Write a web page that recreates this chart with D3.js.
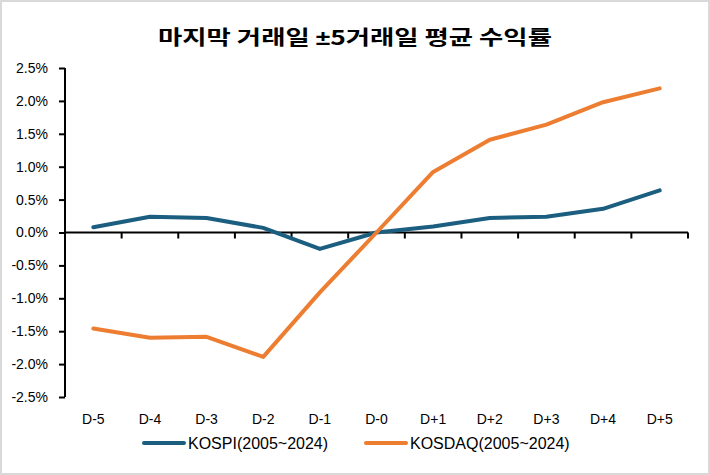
<!DOCTYPE html>
<html>
<head>
<meta charset="utf-8">
<script src="https://cdn.jsdelivr.net/npm/d3@7"></script>
<style>
  body { margin: 0; background: #fff; }
  svg { display: block; }
</style>
</head>
<body>
<div id="chart"></div>
<script>
// data
var days = ["D-5", "D-4", "D-3", "D-2", "D-1", "D-0", "D+1", "D+2", "D+3", "D+4", "D+5"];
var kospi = [0.08, 0.24, 0.22, 0.07, -0.25, 0.0, 0.09, 0.22, 0.24, 0.36, 0.64];
var kosdaq = [-1.46, -1.60, -1.585, -1.89, -0.91, 0.0, 0.92, 1.41, 1.64, 1.98, 2.19];
var yTicks = [2.5, 2.0, 1.5, 1.0, 0.5, 0.0, -0.5, -1.0, -1.5, -2.0, -2.5];
var seriesNames = ["KOSPI(2005~2024)", "KOSDAQ(2005~2024)"];
var colors = ["#1B5E80", "#ED7D31"];

var width = 710, height = 475;
var margin = { top: 68, right: 22, bottom: 78, left: 65 };

var svg = d3.select("#chart").append("svg")
  .attr("width", width)
  .attr("height", height);

// outer frame
svg.append("rect")
  .attr("x", 1).attr("y", 1)
  .attr("width", width - 2).attr("height", height - 2)
  .attr("fill", "#fff")
  .attr("stroke", "#d9d9d9")
  .attr("stroke-width", 2);

var font = "'Liberation Sans', Arial, sans-serif";

// title, drawn a bit wide like the original
var titleScale = 1.32;
var title = svg.append("g")
  .attr("transform", "scale(" + titleScale + ",1)")
  .append("text")
  .attr("x", 355 / titleScale)
  .attr("y", 45)
  .attr("text-anchor", "middle")
  .style("font-family", "'Noto Sans CJK KR', 'Noto Sans', sans-serif")
  .style("font-weight", "bold")
  .style("font-size", "20px")
  .attr("fill", "#000");
title.append("tspan").text("마지막 거래일 ");
title.append("tspan").style("font-family", font).text("±");
title.append("tspan").text("5거래일 평균 수익률");

var x = d3.scaleBand()
  .domain(days)
  .range([margin.left, 688]);

var y = d3.scaleLinear()
  .domain([-2.5, 2.5])
  .range([397, 68]);

// y axis
var yAxis = svg.append("g")
  .attr("transform", "translate(" + margin.left + ",0)")
  .call(d3.axisLeft(y).tickValues(yTicks).tickSize(6).tickPadding(11)
    .tickFormat(function (d) { return d.toFixed(1) + "%"; }));
yAxis.selectAll("path, line").attr("stroke", "#000").attr("stroke-width", 2);
yAxis.select(".domain").attr("d", "M0," + y(2.5) + "V" + y(-2.5));
yAxis.selectAll("text")
  .style("font-family", font).style("font-size", "14px").attr("fill", "#000");

// x axis on the zero line
var xAxis = svg.append("g")
  .attr("transform", "translate(0," + y(0) + ")")
  .call(d3.axisBottom(x).tickSizeOuter(0).tickSize(0).tickFormat(""));
xAxis.selectAll("path").attr("stroke", "#000").attr("stroke-width", 2);
xAxis.select(".domain").attr("d", "M" + margin.left + ",0H688");

// tick marks at band boundaries
var bounds = days.map(function (d) { return x(d) + x.bandwidth(); });
xAxis.selectAll("line.bound")
  .data(bounds)
  .enter().append("line")
  .attr("class", "bound")
  .attr("x1", function (d) { return d; })
  .attr("x2", function (d) { return d; })
  .attr("y1", 0).attr("y2", 6)
  .attr("stroke", "#000").attr("stroke-width", 2);

// category labels at the bottom
svg.selectAll("text.day")
  .data(days)
  .enter().append("text")
  .attr("class", "day")
  .attr("x", function (d) { return x(d) + x.bandwidth() / 2; })
  .attr("y", 424)
  .attr("text-anchor", "middle")
  .style("font-family", font).style("font-size", "14px")
  .attr("fill", "#000")
  .text(function (d) { return d; });

var line = d3.line()
  .x(function (d, i) { return x(days[i]) + x.bandwidth() / 2; })
  .y(function (d) { return y(d); });

[kospi, kosdaq].forEach(function (s, i) {
  svg.append("path")
    .datum(s)
    .attr("d", line)
    .attr("fill", "none")
    .attr("stroke", colors[i])
    .attr("stroke-width", 4)
    .attr("stroke-linecap", "round")
    .attr("stroke-linejoin", "round");
});

// legend
var legendX = [142, 364];
seriesNames.forEach(function (name, i) {
  var g = svg.append("g").attr("transform", "translate(" + legendX[i] + ",443)");
  g.append("line")
    .attr("x1", 2).attr("x2", 42)
    .attr("stroke", colors[i])
    .attr("stroke-width", 4)
    .attr("stroke-linecap", "round");
  g.append("text")
    .attr("x", 46).attr("y", 6)
    .style("font-family", font).style("font-size", "16px")
    .attr("fill", "#000")
    .text(name);
});
</script>
</body>
</html>
